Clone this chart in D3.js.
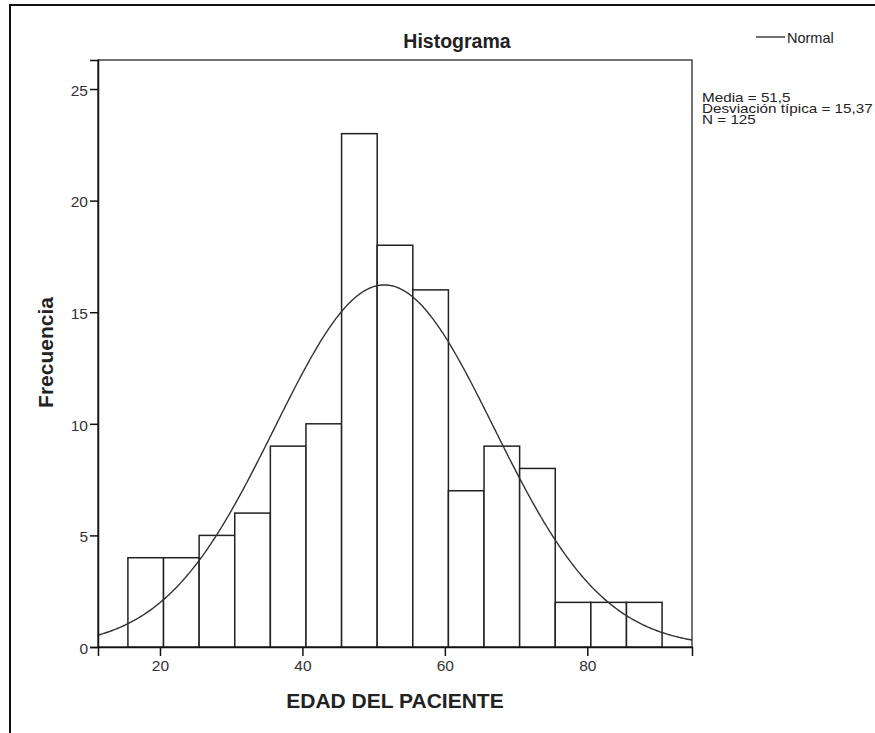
<!DOCTYPE html>
<html>
  <head>
    <meta charset="utf-8">
    <script src="https://d3js.org/d3.v7.min.js"></script>
    <style>
      body { margin: 0; background: #fff; }
      text { font-family: "Liberation Sans", Arial, sans-serif; fill: #222; }
    </style>
  </head>
  <body>
    <svg width="875" height="733"></svg>
    <script>

    // histogram bins (left edges) and counts
    var binStarts = [15.5, 20.5, 25.5, 30.5, 35.5, 40.5, 45.5, 50.5, 55.5, 60.5, 65.5, 70.5, 75.5, 80.5, 85.5];
    var counts = [4, 4, 5, 6, 9, 10, 23, 18, 16, 7, 9, 8, 2, 2, 2];
    var binWidth = 5;
    var xTicks = [20, 40, 60, 80];
    var yTicks = [0, 5, 10, 15, 20, 25];

    // summary stats shown on the right
    var media = 51.5, sd = 15.37, n = 125;
    var statLines = ["Media = 51,5", "Desviación típica = 15,37", "N = 125"];

    var svg = d3.select("svg");

    // outer frame (runs off the right/bottom edge like the screenshot)
    svg.append("rect")
      .attr("x", 10).attr("y", 5)
      .attr("width", 900).attr("height", 800)
      .attr("fill", "none").attr("stroke", "#111").attr("stroke-width", 2);

    var plotLeft = 98, plotTop = 60, plotRight = 692, plotBottom = 647;

    var x = d3.scaleLinear().domain([11.3, 94.7]).range([plotLeft, plotRight]);
    var y = d3.scaleLinear().domain([0, 26.3]).range([plotBottom, plotTop]);

    var g = svg.append("g");

    // plot frame
    g.append("rect")
      .attr("x", plotLeft).attr("y", plotTop)
      .attr("width", plotRight - plotLeft).attr("height", plotBottom - plotTop)
      .attr("fill", "none").attr("stroke", "#444").attr("stroke-width", 1.5);

    // bars
    g.selectAll("rect.bar")
      .data(counts)
      .enter()
      .append("rect")
      .attr("class", "bar")
      .attr("x", function(d, i) { return x(binStarts[i]); })
      .attr("width", function(d, i) { return x(binStarts[i] + binWidth) - x(binStarts[i]); })
      .attr("y", function(d) { return y(d); })
      .attr("height", function(d) { return plotBottom - y(d); })
      .attr("fill", "#fff")
      .attr("stroke", "#222")
      .attr("stroke-width", 1.5);

    // normal curve scaled to counts
    var xs = d3.range(11.3, 94.71, 0.2);
    var line = d3.line()
      .x(function(v) { return x(v); })
      .y(function(v) {
        var z = (v - media) / sd;
        return y(n * binWidth * Math.exp(-0.5 * z * z) / (sd * Math.sqrt(2 * Math.PI)));
      });
    g.append("path")
      .attr("d", line(xs))
      .attr("fill", "none")
      .attr("stroke", "#333")
      .attr("stroke-width", 1.4);

    // axes
    var yAxis = g.append("g")
      .attr("transform", "translate(" + plotLeft + ",0)")
      .call(d3.axisLeft(y).tickValues(yTicks).tickSize(8).tickPadding(2).tickFormat(d3.format("d")));
    var xAxis = g.append("g")
      .attr("transform", "translate(0," + plotBottom + ")")
      .call(d3.axisBottom(x).tickValues(xTicks).tickSize(9).tickPadding(4).tickFormat(d3.format("d")));
    [xAxis, yAxis].forEach(function(a) {
      a.attr("font-size", null).attr("font-family", null);
      a.select(".domain").attr("stroke", "#111").attr("stroke-width", 1.5);
      a.selectAll(".tick line").attr("stroke", "#111").attr("stroke-width", 1.5);
      a.selectAll(".tick text").style("font-size", "15.5px").style("fill", "#333");
    });
    yAxis.selectAll(".tick text").attr("dy", "0.4em");

    // title and axis labels
    svg.append("text")
      .attr("x", 457).attr("y", 48)
      .attr("text-anchor", "middle")
      .style("font-size", "19.5px").style("font-weight", "bold")
      .text("Histograma");

    svg.append("text")
      .attr("x", 395).attr("y", 708)
      .attr("text-anchor", "middle")
      .style("font-size", "21px").style("font-weight", "bold")
      .text("EDAD DEL PACIENTE");

    svg.append("text")
      .attr("transform", "translate(53,352.5) rotate(-90)")
      .attr("text-anchor", "middle")
      .style("font-size", "21px").style("font-weight", "bold")
      .text("Frecuencia");

    // legend
    svg.append("line")
      .attr("x1", 756).attr("x2", 785)
      .attr("y1", 37).attr("y2", 37)
      .attr("stroke", "#333").attr("stroke-width", 1.4);
    svg.append("text")
      .attr("x", 787).attr("y", 43)
      .style("font-size", "14.5px")
      .text("Normal");

    // stats block: tight line spacing, slightly wide glyphs like the source
    var stats = svg.append("g")
      .attr("transform", "translate(702,0) scale(1.22,1)");
    stats.selectAll("text.stat")
      .data(statLines)
      .enter()
      .append("text")
      .attr("class", "stat")
      .attr("x", 0)
      .attr("y", function(d, i) { return 102 + i * 10.8; })
      .style("font-size", "12.5px")
      .text(function(d) { return d; });

    </script>
  </body>
</html>
